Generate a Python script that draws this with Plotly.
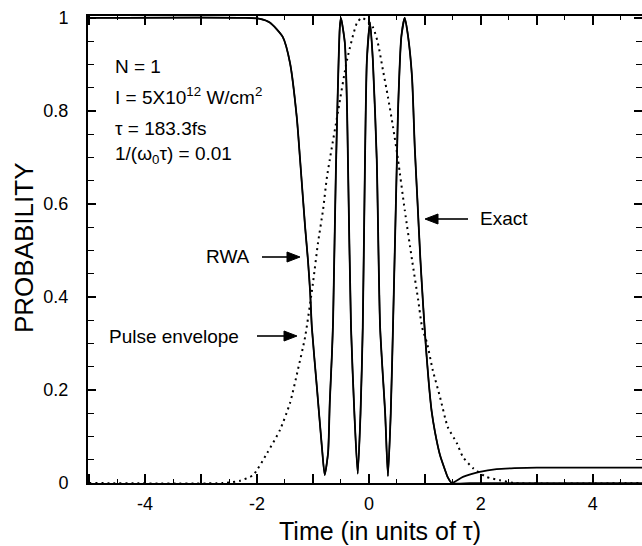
import plotly.graph_objects as go

# ---- data ----
exact_t = [-5.0, -2.2, -1.95, -1.77, -1.54, -1.41, -1.29, -1.23, -1.14, -1.09, -1.05, -1.02,
           -0.93, -0.84, -0.79, -0.73, -0.70, -0.66, -0.64, -0.59, -0.52, -0.50, -0.43, -0.39,
           -0.375, -0.32, -0.26, -0.20, -0.15, -0.11, -0.07, -0.036, 0.02, 0.07, 0.14, 0.20,
           0.29, 0.34, 0.39, 0.43, 0.50, 0.52, 0.58, 0.64, 0.70, 0.77, 0.82, 0.87, 0.92, 0.97,
           1.02, 1.07, 1.12, 1.18, 1.27, 1.36, 1.41, 1.48, 1.68, 1.98, 2.28, 2.6, 3.0, 5.0]
exact_p = [1.0, 1.0, 0.998, 0.99, 0.959, 0.903, 0.787, 0.695, 0.55, 0.48, 0.41, 0.335,
           0.206, 0.077, 0.017, 0.065, 0.172, 0.28, 0.35, 0.673, 0.98, 1.0, 0.946, 0.80,
           0.695, 0.335, 0.15, 0.02, 0.15, 0.335, 0.695, 0.91, 0.99, 0.91, 0.695, 0.335,
           0.15, 0.015, 0.15, 0.335, 0.695, 0.80, 0.96, 1.0, 0.96, 0.873, 0.72, 0.60, 0.48, 0.38,
           0.29, 0.215, 0.155, 0.11, 0.06, 0.028, 0.012, 0.0, 0.013, 0.024, 0.030, 0.032, 0.033, 0.033]

rwa_t = [-5.0, -2.2, -1.95, -1.77, -1.54, -1.41, -1.29, -1.23, -1.14, -1.09, -1.05, -1.02,
         -0.93, -0.84, -0.79, -0.73, -0.70, -0.66, -0.64, -0.59, -0.52, -0.50, -0.43, -0.39,
         -0.375, -0.32, -0.26, -0.20, -0.15, -0.11, -0.07, -0.036, 0.02, 0.07, 0.14, 0.20,
         0.29, 0.34, 0.39, 0.43, 0.50, 0.52, 0.58, 0.64, 0.70, 0.77, 0.82, 0.87, 0.92, 0.97,
         1.02, 1.07, 1.12, 1.18, 1.27, 1.36, 1.41, 1.48, 1.8, 2.5, 5.0]
rwa_p = [1.0, 1.0, 0.998, 0.99, 0.959, 0.903, 0.787, 0.695, 0.55, 0.48, 0.41, 0.335,
         0.206, 0.077, 0.017, 0.065, 0.172, 0.28, 0.35, 0.673, 0.98, 1.0, 0.946, 0.80,
         0.695, 0.335, 0.15, 0.02, 0.15, 0.335, 0.695, 0.91, 0.99, 0.91, 0.695, 0.335,
         0.15, 0.015, 0.15, 0.335, 0.695, 0.80, 0.96, 1.0, 0.96, 0.873, 0.72, 0.60, 0.48, 0.38,
         0.29, 0.215, 0.155, 0.11, 0.06, 0.028, 0.012, 0.0, 0.0, 0.0, 0.0]

env_t = [-5.0, -2.6, -2.3, -2.07, -1.82, -1.59, -1.41, -1.27, -1.14, -1.0, -0.91, -0.82,
         -0.75, -0.70, -0.55, -0.39, -0.21, -0.12, 0.07, 0.16, 0.25, 0.34, 0.43, 0.52,
         0.64, 0.77, 0.88, 0.95, 1.04, 1.14, 1.27, 1.41, 1.57, 1.68, 1.86, 2.1, 2.34, 2.6, 5.0]
env_p = [0.0, 0.0, 0.005, 0.017, 0.064, 0.114, 0.172, 0.243, 0.314, 0.43, 0.516, 0.587,
         0.658, 0.695, 0.80, 0.91, 0.99, 1.0, 0.98, 0.946, 0.888, 0.83, 0.766, 0.695,
         0.587, 0.48, 0.394, 0.335, 0.30, 0.243, 0.185, 0.12, 0.086, 0.056, 0.032, 0.013, 0.006, 0.0, 0.0]

x_tickvals = [-4, -2, 0, 2, 4]
x_ticktext = ["-4", "-2", "0", "2", "4"]
y_tickvals = [0, 0.2, 0.4, 0.6, 0.8, 1.0]
y_ticktext = ["0", "0.2", "0.4", "0.6", "0.8", "1"]

FONT = "Liberation Sans, Arial, Helvetica, sans-serif"
XR = [-5.02, 4.88]
YR = [0, 1.004]


def tx(px):
    return XR[0] + (px - 88) / 554 * (XR[1] - XR[0])


def ty(py):
    return (483 - py) / 467 * YR[1]


fig = go.Figure()
fig.add_trace(go.Scatter(x=env_t, y=env_p, mode="lines", name="Pulse envelope",
                         line=dict(color="black", width=2, dash="2px,4px", shape="spline", smoothing=0.6)))
fig.add_trace(go.Scatter(x=rwa_t, y=rwa_p, mode="lines", name="RWA",
                         line=dict(color="black", width=1.5, shape="spline", smoothing=0.6)))
fig.add_trace(go.Scatter(x=exact_t, y=exact_p, mode="lines", name="Exact",
                         line=dict(color="black", width=1.8, shape="spline", smoothing=0.6)))
# helper axes for the short half-unit ticks and the right-side ticks
fig.add_trace(go.Scatter(x=[None], y=[None], yaxis="y2", showlegend=False, hoverinfo="skip"))
fig.add_trace(go.Scatter(x=[None], y=[None], xaxis="x2", showlegend=False, hoverinfo="skip"))
fig.add_trace(go.Scatter(x=[None], y=[None], xaxis="x3", showlegend=False, hoverinfo="skip"))

annots = []
block = [("N = 1", 66.5), ("I = 5X10<sup>12</sup> W/cm<sup>2</sup>", 96),
         ("τ = 183.3fs", 128), ("1/(ω<sub>0</sub>τ) = 0.01", 155)]
for txt, py in block:
    annots.append(dict(x=tx(113), y=ty(py), xref="x", yref="y", text=txt, showarrow=False,
                       xanchor="left", yanchor="middle", font=dict(family=FONT, size=19, color="black")))
for txt, px, py in [("RWA", 228, 256), ("Exact", 504, 218), ("Pulse envelope", 174, 336)]:
    annots.append(dict(x=tx(px), y=ty(py), xref="x", yref="y", text=txt, showarrow=False,
                       xanchor="center", yanchor="middle", font=dict(family=FONT, size=19, color="black")))
annots.append(dict(x=(380 - 88) / 554, y=(483 - 531) / 467, xref="paper", yref="paper",
                   text="Time (in units of τ)", showarrow=False, xanchor="center", yanchor="middle",
                   font=dict(family=FONT, size=25, color="black")))
annots.append(dict(x=(24 - 88) / 554, y=(483 - 248) / 467, xref="paper", yref="paper",
                   text="PROBABILITY", showarrow=False, textangle=-90, xanchor="center", yanchor="middle",
                   font=dict(family=FONT, size=26, color="black")))

# arrows: shaft + filled head (pixel geometry converted to data coords)
shapes = []
for tail, tip, py in [(262, 300, 257), (468, 425, 219), (257, 297, 336)]:
    d = 1 if tip > tail else -1
    base = tip - d * 13
    shapes.append(dict(type="line", xref="x", yref="y", x0=tx(tail), y0=ty(py), x1=tx(base), y1=ty(py),
                       line=dict(color="black", width=1.6)))
    path = "M {},{} L {},{} L {},{} Z".format(tx(tip), ty(py), tx(base), ty(py - 5), tx(base), ty(py + 5))
    shapes.append(dict(type="path", xref="x", yref="y", path=path, fillcolor="black",
                       line=dict(color="black", width=1)))

tickfont = dict(family=FONT, size=18, color="black")
fig.update_layout(
    width=642, height=546,
    margin=dict(l=88, r=0, t=16, b=63),
    paper_bgcolor="white", plot_bgcolor="white",
    showlegend=False,
    annotations=annots,
    shapes=shapes,
    xaxis=dict(range=XR, tickmode="array", tickvals=x_tickvals, ticktext=x_ticktext,
               ticks="inside", ticklen=9, tickwidth=1.5, tickcolor="black",
               showline=True, linecolor="black", linewidth=2, mirror="ticks",
               showgrid=False, zeroline=False, ticklabelstandoff=3, tickfont=tickfont,
               minor=dict(tickmode="linear", tick0=0, dtick=1, ticks="inside", ticklen=9,
                          tickwidth=1.5, tickcolor="black", showgrid=False)),
    xaxis2=dict(range=XR, overlaying="x", side="bottom", tickmode="linear", tick0=0.5, dtick=1,
                ticks="inside", ticklen=4, tickwidth=1.2, tickcolor="black",
                showticklabels=False, showline=False, showgrid=False, zeroline=False),
    xaxis3=dict(range=XR, overlaying="x", side="top", tickmode="linear", tick0=0.5, dtick=1,
                ticks="inside", ticklen=4, tickwidth=1.2, tickcolor="black",
                showticklabels=False, showline=False, showgrid=False, zeroline=False),
    yaxis=dict(range=YR, tickmode="array", tickvals=y_tickvals, ticktext=y_ticktext,
               ticks="inside", ticklen=8, tickwidth=1.5, tickcolor="black",
               showline=True, linecolor="black", linewidth=2, mirror=False,
               showgrid=False, zeroline=False, ticklabelstandoff=14, tickfont=tickfont,
               minor=dict(tickmode="linear", tick0=0, dtick=0.05, ticks="inside", ticklen=6,
                          tickwidth=1.2, tickcolor="black", showgrid=False)),
    yaxis2=dict(range=YR, overlaying="y", side="right", tickmode="array", tickvals=y_tickvals,
                showticklabels=False, ticks="inside", ticklen=8, tickwidth=1.5, tickcolor="black",
                showline=False, showgrid=False, zeroline=False,
                minor=dict(tickmode="linear", tick0=0, dtick=0.05, ticks="inside", ticklen=6,
                           tickwidth=1.2, tickcolor="black", showgrid=False)),
)

fig.write_html("out.html")
